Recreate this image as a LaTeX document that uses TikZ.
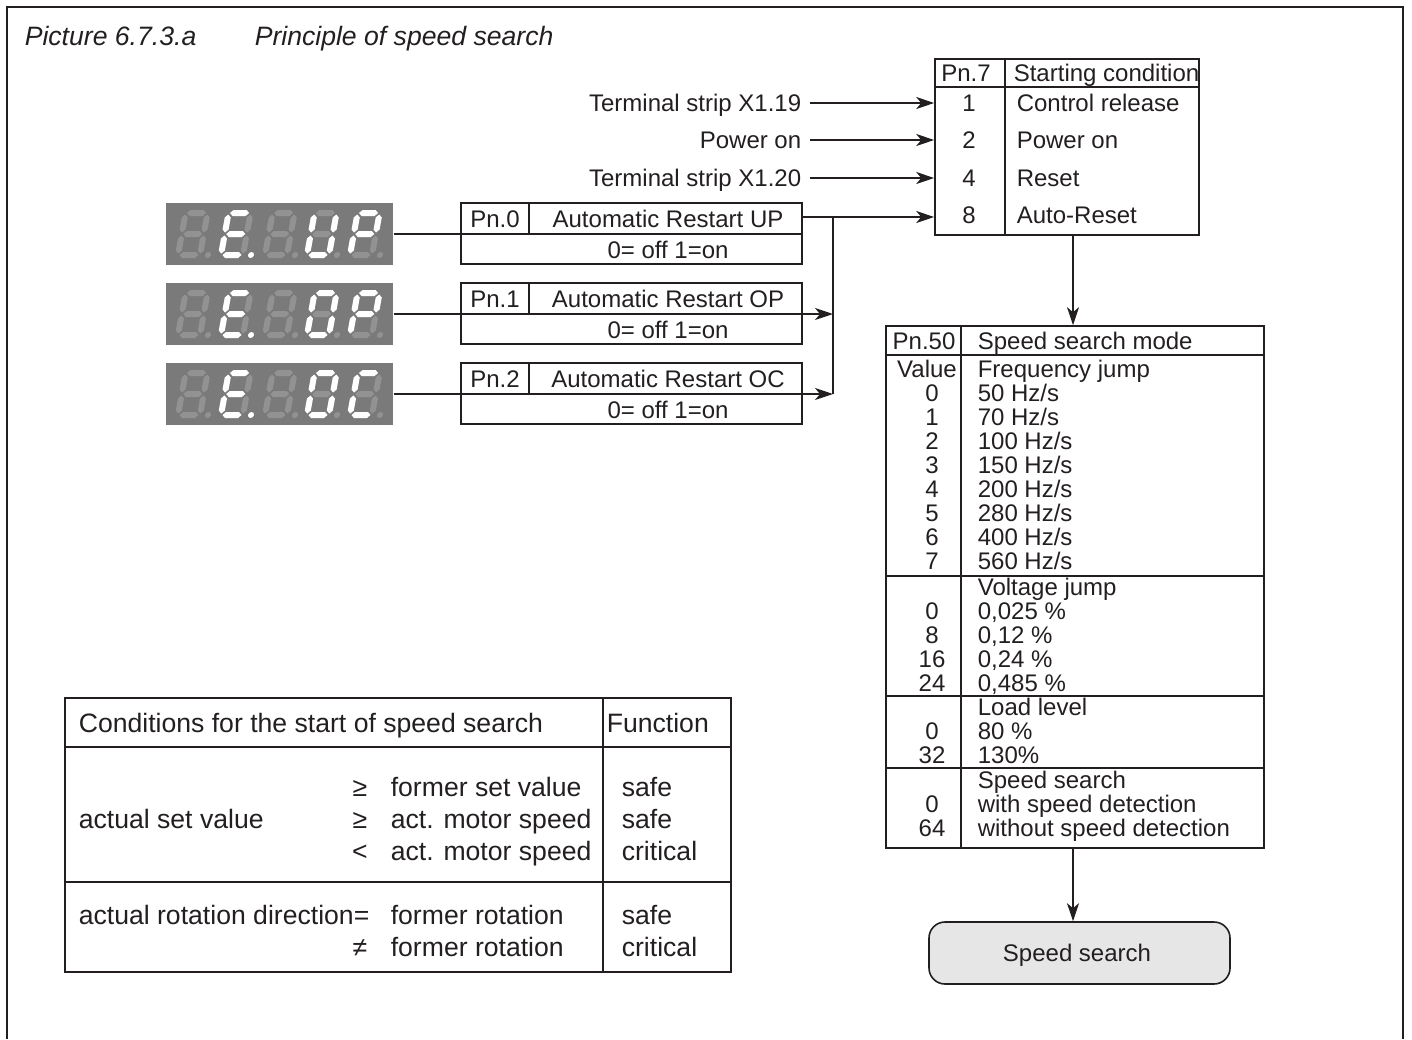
\documentclass[tikz,border=0pt]{standalone}
\usepackage{fontspec}
\setmainfont{Liberation Sans}
\usetikzlibrary{arrows.meta,fit}

\definecolor{dispbg}{RGB}{122,122,122}
\definecolor{segoff}{RGB}{146,146,146}
\definecolor{segon}{RGB}{255,255,255}
\definecolor{boxfill}{RGB}{230,230,231}
\definecolor{ink}{RGB}{35,31,32}

\newcommand\fsA{\fontsize{12}{14}\selectfont}
\newcommand\fsB{\fontsize{13.3}{16}\selectfont}

% seven-segment helpers (local units = px, y downwards)
\newcommand\hsegp[2]{({#1-9.5},{#2}) -- ++(3,-3) -- ++(13,0) -- ++(3,3) -- ++(-3,3) -- ++(-13,0) -- cycle}
\newcommand\vsegp[2]{({#1},{#2-9}) -- ++(3,3) -- ++(0,12) -- ++(-3,3) -- ++(-3,-3) -- ++(0,-12) -- cycle}
\newcommand\segdraw[2]{%
  \if a#1\fill[#2] \hsegp{11}{-42};\fi
  \if b#1\fill[#2] \vsegp{22}{-31.5};\fi
  \if c#1\fill[#2] \vsegp{22}{-10.5};\fi
  \if d#1\fill[#2] \hsegp{11}{0};\fi
  \if e#1\fill[#2] \vsegp{0}{-10.5};\fi
  \if f#1\fill[#2] \vsegp{0}{-31.5};\fi
  \if g#1\fill[#2] \hsegp{11}{-21};\fi}
\newcommand\sevenseg[4]{%
  \begin{scope}[shift={(#1,#2)}, xslant=0.18]
    \foreach \s in {a,b,c,d,e,f,g}{\segdraw{\s}{segoff}}
    \foreach \s in {#3}{\segdraw{\s}{segon}}
    \fill[#4] (30,0) circle[radius=3];
  \end{scope}}

\tikzset{
  tA/.style={inner sep=0pt, text height=8.6pt, text depth=0pt, font=\fsA, text=ink},
  tB/.style={inner sep=0pt, text height=9.52pt, text depth=0pt, font=\fsB, text=ink},
  box/.style={draw=ink, inner sep=0pt, rectangle},
  disp/.style={fill=dispbg, inner sep=0pt, rectangle},
  arr/.style={draw=ink, -{Stealth[length=9pt,width=6pt,inset=2.5pt]}},
  frame/.style={draw=ink, line width=1.3pt},
}

\begin{document}
\begin{tikzpicture}[x=0.5pt, y=-0.5pt, line width=0.8pt, draw=ink]
\useasboundingbox (0,0) rectangle (1412,1039);

% outer frame
\draw[frame] (7,1039) -- (7,7) -- (1403,7) -- (1403,1039);

% title
\node[tB, anchor=west, font=\fsB\itshape] (title1) at (24,36) {Picture 6.7.3.a};
\node[tB, anchor=west, font=\fsB\itshape] (title2) at (254,36) {Principle of speed search};

% ---------- Pn.7 table ----------
\node[box, fit={(935,59) (1199,235)}] (pn7) {};
\draw (935,87) -- (1199,87);
\draw (1005,59) -- (1005,235);
\node[tA] (p7h1) at (966,73) {Pn.7};
\node[tA, anchor=west] (p7h2) at (1013,73) {Starting condition};
\node[tA] (p7n1) at (969,103) {1};
\node[tA, anchor=west] (p7l1) at (1016,103) {Control release};
\node[tA] (p7n2) at (969,140) {2};
\node[tA, anchor=west] (p7l2) at (1016,140) {Power on};
\node[tA] (p7n3) at (969,178) {4};
\node[tA, anchor=west] (p7l3) at (1016,178) {Reset};
\node[tA] (p7n4) at (969,215) {8};
\node[tA, anchor=west] (p7l4) at (1016,215) {Auto-Reset};

% inputs
\node[tA, anchor=east] (in1) at (802,103) {Terminal strip X1.19};
\node[tA, anchor=east] (in2) at (802,140) {Power on};
\node[tA, anchor=east] (in3) at (802,178) {Terminal strip X1.20};
\draw[arr] ([xshift=4pt]in1.east) -- (in1.east -| pn7.west);
\draw[arr] ([xshift=4pt]in2.east) -- (in2.east -| pn7.west);
\draw[arr] ([xshift=4pt]in3.east) -- (in3.east -| pn7.west);

% ---------- displays ----------
\node[disp, fit={(166,203) (393,265)}] (disp1) {};
\node[disp, fit={(166,283) (393,345)}] (disp2) {};
\node[disp, fit={(166,363) (393,425)}] (disp3) {};

\sevenseg{178}{255}{z}{segoff}
\sevenseg{221}{255}{a,f,g,e,d}{segon}
\sevenseg{265}{255}{z}{segoff}
\sevenseg{307}{255}{f,b,e,c,d}{segoff}
\sevenseg{350}{255}{a,f,b,g,e}{segoff}

\sevenseg{178}{335}{z}{segoff}
\sevenseg{221}{335}{a,f,g,e,d}{segon}
\sevenseg{265}{335}{z}{segoff}
\sevenseg{307}{335}{a,b,c,d,e,f}{segoff}
\sevenseg{350}{335}{a,f,b,g,e}{segoff}

\sevenseg{178}{415}{z}{segoff}
\sevenseg{221}{415}{a,f,g,e,d}{segon}
\sevenseg{265}{415}{z}{segoff}
\sevenseg{307}{415}{a,b,c,d,e,f}{segoff}
\sevenseg{350}{415}{a,f,e,d}{segoff}

% ---------- Pn.0 / Pn.1 / Pn.2 ----------
\node[box, fit={(461,203) (802,264)}] (pn0) {};
\draw (461,234) -- (802,234);
\draw (529,203) -- (529,234);
\node[tA] (p0a) at (495,218.5) {Pn.0};
\node[tA] (p0b) at (668,218.5) {Automatic Restart UP};
\node[tA] (p0c) at (668,249.5) {0= off 1=on};

\node[box, fit={(461,283) (802,344)}] (pn1) {};
\draw (461,314) -- (802,314);
\draw (529,283) -- (529,314);
\node[tA] (p1a) at (495,298.5) {Pn.1};
\node[tA] (p1b) at (668,298.5) {Automatic Restart OP};
\node[tA] (p1c) at (668,329.5) {0= off 1=on};

\node[box, fit={(461,363) (802,424)}] (pn2) {};
\draw (461,394) -- (802,394);
\draw (529,363) -- (529,394);
\node[tA] (p2a) at (495,378.5) {Pn.2};
\node[tA] (p2b) at (668,378.5) {Automatic Restart OC};
\node[tA] (p2c) at (668,409.5) {0= off 1=on};

% connections
\coordinate (pn0out) at (802,217);
\coordinate (bus) at (833,217);
\draw (disp1.east) -- (disp1.east -| pn0.west);
\draw[arr] (disp2.east) -- (disp2.east -| bus);
\draw[arr] (disp3.east) -- (disp3.east -| bus);
\draw (bus) -- (bus |- disp3.east);
\draw[arr] (pn0out) -- (pn0out -| pn7.west);

% ---------- Pn.50 table ----------
\node[box, fit={(886,326) (1264,848)}] (pn50) {};
\draw (886,355) -- (1264,355);
\draw (886,576) -- (1264,576);
\draw (886,696) -- (1264,696);
\draw (886,768) -- (1264,768);
\draw (961,326) -- (961,848);
\node[tA] (h50a) at (924,340.5) {Pn.50};
\node[tA, anchor=west] (h50b) at (977,340.5) {Speed search mode};

\node[tA] (v0) at (927,368.5) {Value};
\node[tA, anchor=west] (f0) at (977,368.5) {Frequency jump};
\foreach \n/\l [count=\i] in {0/50 Hz\slash s,1/70 Hz\slash s,2/100 Hz\slash s,3/150 Hz\slash s,4/200 Hz\slash s,5/280 Hz\slash s,6/400 Hz\slash s,7/560 Hz\slash s}{
  \node[tA] (fv\i) at (932,{368.5+24*\i}) {\n};
  \node[tA, anchor=west] (fl\i) at (977,{368.5+24*\i}) {\l};
}
\node[tA, anchor=west] (u0) at (977,586.5) {Voltage jump};
\foreach \n/\l [count=\i] in {0/{0,025 \%},8/{0,12 \%},16/{0,24 \%},24/{0,485 \%}}{
  \node[tA] (uv\i) at (932,{586.5+24*\i}) {\n};
  \node[tA, anchor=west] (ul\i) at (977,{586.5+24*\i}) {\l};
}
\node[tA, anchor=west] (l0) at (977,707) {Load level};
\node[tA] (lv1) at (932,731) {0};
\node[tA, anchor=west] (ll1) at (977,731) {80 \%};
\node[tA] (lv2) at (932,755) {32};
\node[tA, anchor=west] (ll2) at (977,755) {130\%};
\node[tA, anchor=west] (s0) at (977,779.5) {Speed search};
\node[tA] (sv1) at (932,803.5) {0};
\node[tA, anchor=west] (sl1) at (977,803.5) {with speed detection};
\node[tA] (sv2) at (932,827.5) {64};
\node[tA, anchor=west] (sl2) at (977,827.5) {without speed detection};

% ---------- Speed search ----------
\node[draw=ink, fill=boxfill, rounded corners=8pt, inner sep=0pt, fit={(929,922) (1230,984)}] (ss) {};
\node[tA] (sst) at (1077,953) {Speed search};

\coordinate (sx) at (1073,0);
\draw[arr] (pn7.south -| sx) -- (pn50.north -| sx);
\draw[arr] (pn50.south -| sx) -- (ss.north -| sx);

% ---------- Conditions table ----------
\node[box, line width=1.2pt, fit={(65,698) (731,972)}] (cond) {};
\draw[line width=1.2pt] (65,747) -- (731,747);
\draw[line width=1.2pt] (65,882) -- (731,882);
\draw[line width=1.2pt] (603,698) -- (603,972);
\node[tB, anchor=west] (c0a) at (78,723) {Conditions for the start of speed search};
\node[tB, anchor=west] (c0b) at (606,723) {Function};
\node[tB, anchor=west] (c1) at (78,819) {actual set value};
\node[tB] (c1s1) at (360,787) {≥};
\node[tB, anchor=west] (c1t1) at (390,787) {former set value};
\node[tB, anchor=west] (c1f1) at (621,787) {safe};
\node[tB] (c1s2) at (360,819) {≥};
\node[tB, anchor=west] (c1t2) at (390,819) {act. motor speed};
\node[tB, anchor=west] (c1f2) at (621,819) {safe};
\node[tB] (c1s3) at (360,851) {<};
\node[tB, anchor=west] (c1t3) at (390,851) {act. motor speed};
\node[tB, anchor=west] (c1f3) at (621,851) {critical};
\node[tB, anchor=west] (c2) at (78,915) {actual rotation direction=};
\node[tB, anchor=west] (c2t1) at (390,915) {former rotation};
\node[tB, anchor=west] (c2f1) at (621,915) {safe};
\node[tB] (c2s2) at (360,947) {≠};
\node[tB, anchor=west] (c2t2) at (390,947) {former rotation};
\node[tB, anchor=west] (c2f2) at (621,947) {critical};
\end{tikzpicture}
\end{document}
